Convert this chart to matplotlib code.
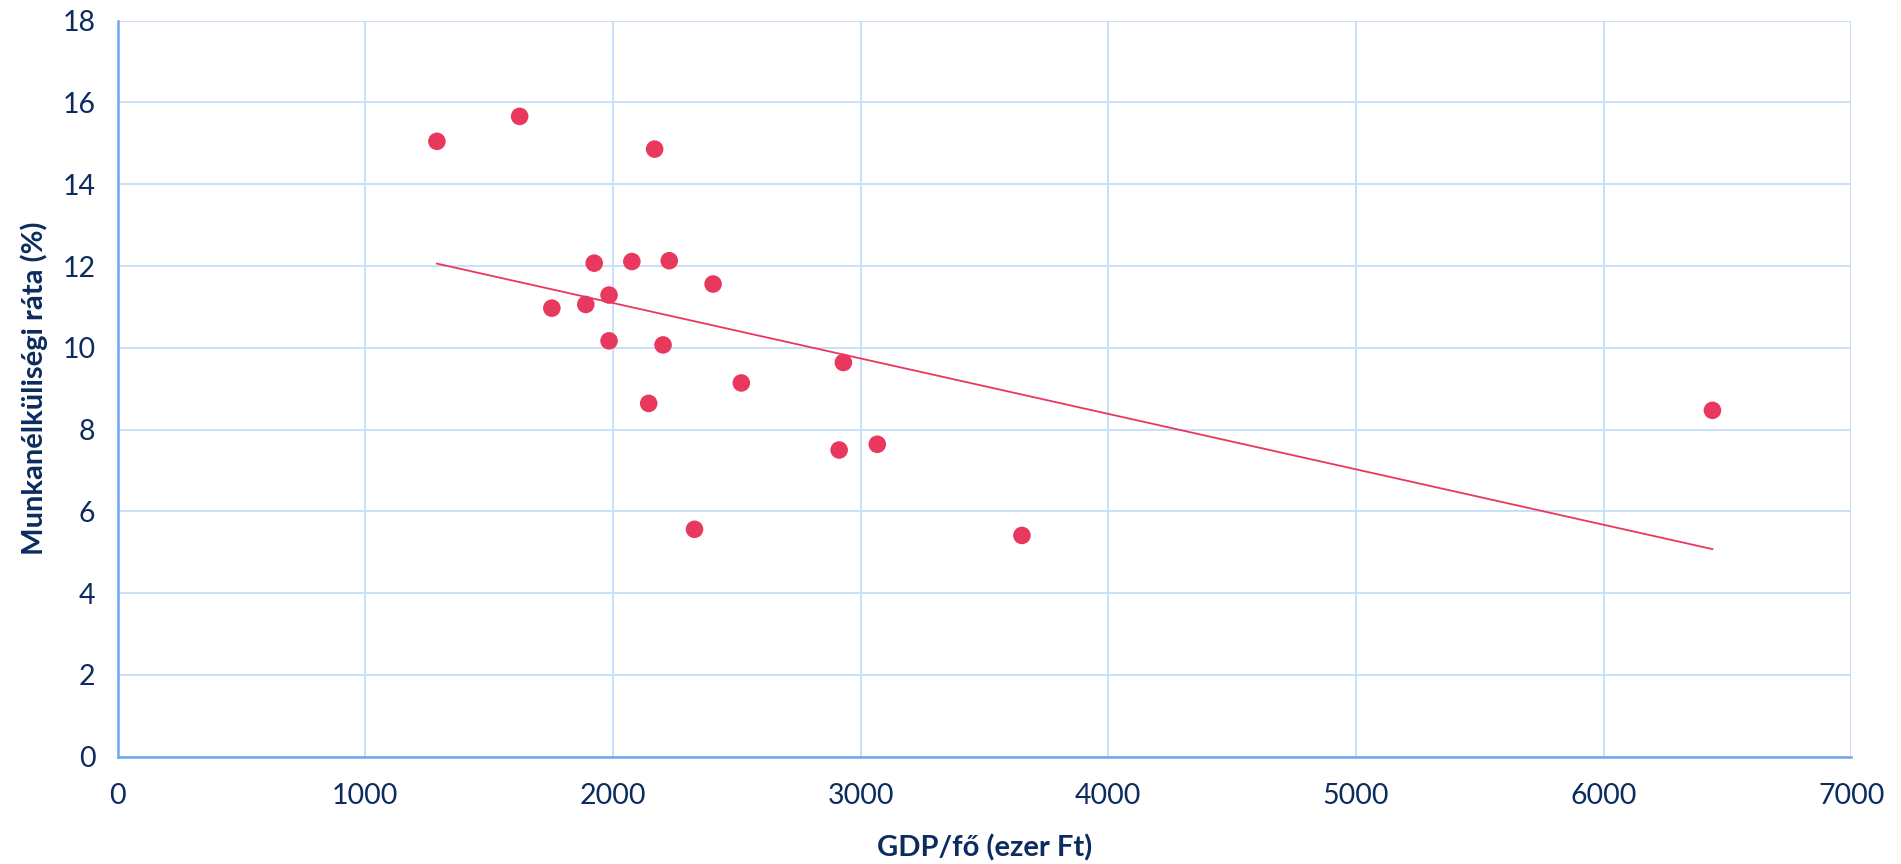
import numpy as np
import matplotlib
matplotlib.use("Agg")
import matplotlib.pyplot as plt

plt.rcParams['font.family'] = ['Lato', 'DejaVu Sans']

# GDP per capita (thousand HUF) and unemployment rate (%) by county
gdp_per_capita = [1289, 1623, 2168, 1924, 2076, 2227, 2404, 1984, 1753, 1890,
                  1984, 2202, 2930, 2518, 2144, 2913, 3067, 2329, 3651, 6439]
unemployment = [15.05, 15.66, 14.86, 12.07, 12.11, 12.13, 11.56, 11.29, 10.97, 11.06,
                10.17, 10.07, 9.64, 9.14, 8.64, 7.50, 7.64, 5.56, 5.41, 8.47]

x_ticks = [0, 1000, 2000, 3000, 4000, 5000, 6000, 7000]
y_ticks = [0, 2, 4, 6, 8, 10, 12, 14, 16, 18]

x_label = "GDP/fő (ezer Ft)"
y_label = "Munkanélküliségi ráta (%)"

text_color = "#0C2B5E"
grid_color = "#C9E0FA"
spine_color = "#6EA6EE"
point_color = "#E8385E"

fig = plt.figure(figsize=(19.01, 8.64), dpi=100)
ax = fig.add_axes([0.0619, 0.1243, 0.912, 0.8517])

x = np.array(gdp_per_capita, dtype=float)
y = np.array(unemployment, dtype=float)

# Linear least-squares trendline over the data range
slope, intercept = np.polyfit(x, y, 1)
xl = np.array([x.min(), x.max()])
ax.plot(xl, slope * xl + intercept, color=point_color, lw=1.3, zorder=3)

ax.scatter(x, y, s=160, color=point_color, edgecolors='none', zorder=4)

ax.set_xlim(0, 7000)
ax.set_ylim(0, 18)
ax.set_xticks(x_ticks)
ax.set_yticks(y_ticks)
ax.grid(True, color=grid_color, lw=1.4, zorder=0)
ax.set_axisbelow(True)

for side in ("top", "right"):
    ax.spines[side].set_visible(False)
for side in ("left", "bottom"):
    ax.spines[side].set_color(spine_color)
    ax.spines[side].set_linewidth(1.8)

ax.tick_params(axis='both', length=0, labelsize=20.5, labelcolor=text_color)
ax.tick_params(axis='x', pad=19)
ax.tick_params(axis='y', pad=16)

ax.set_xlabel(x_label, fontsize=21, fontweight='bold', color=text_color, labelpad=18)
ax.set_ylabel(y_label, fontsize=21, fontweight='bold', color=text_color, labelpad=10)

fig.savefig("out.png", dpi=100, facecolor="white")
